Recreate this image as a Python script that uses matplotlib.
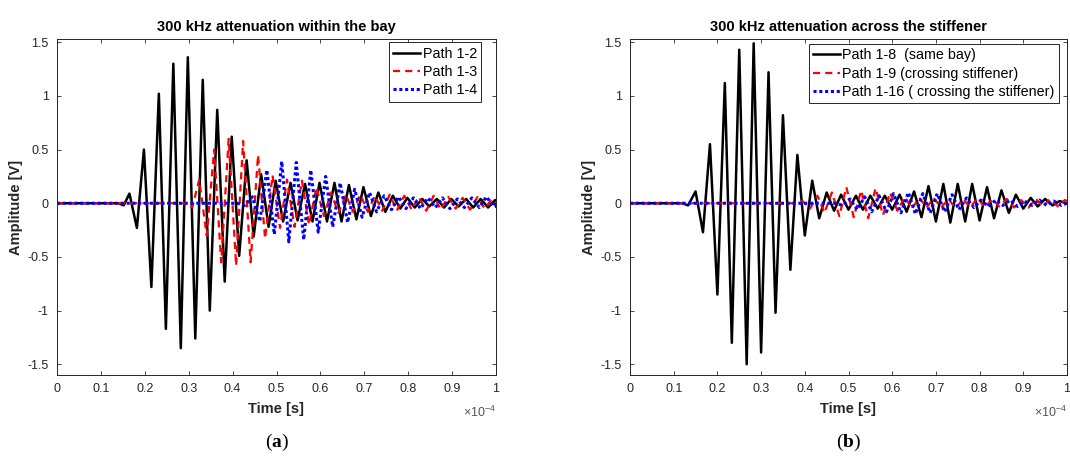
import matplotlib.pyplot as plt

plt.rcParams['font.family'] = ['Liberation Sans', 'DejaVu Sans']
plt.rcParams['mathtext.fontset'] = 'custom'
plt.rcParams['mathtext.rm'] = 'Liberation Sans'
plt.rcParams['mathtext.bf'] = 'Liberation Serif:bold'

# time in units of 1e-4 s, amplitude in V (peaks)
t_12 = [0, 0.14, 0.152, 0.165, 0.182, 0.198, 0.215, 0.232, 0.248, 0.265, 0.282, 0.298, 0.315,
        0.332, 0.348, 0.365, 0.382, 0.398, 0.415, 0.432, 0.448, 0.465, 0.482, 0.498, 0.515,
        0.532, 0.548, 0.565, 0.582, 0.598, 0.615, 0.632, 0.648, 0.665, 0.682, 0.698, 0.715,
        0.732, 0.748, 0.765, 0.782, 0.798, 0.815, 0.832, 0.848, 0.865, 0.882, 0.898, 0.915,
        0.932, 0.948, 0.965, 0.982, 0.998, 1.0]
v_12 = [0, 0, -0.02, 0.09, -0.23, 0.50, -0.78, 1.02, -1.17, 1.30, -1.35, 1.36, -1.26,
        1.15, -1.00, 0.87, -0.73, 0.62, -0.49, 0.40, -0.31, 0.27, -0.22, 0.21, -0.17,
        0.19, -0.16, 0.18, -0.17, 0.19, -0.17, 0.19, -0.17, 0.17, -0.15, 0.15, -0.12,
        0.10, -0.08, 0.07, -0.05, 0.05, -0.04, 0.04, -0.03, 0.04, -0.04, 0.04, -0.03,
        0.04, -0.04, 0.04, -0.04, 0.03, -0.03]

t_13 = [0, 0.295, 0.308, 0.324, 0.341, 0.358, 0.374, 0.391, 0.408, 0.424, 0.441, 0.458,
        0.474, 0.491, 0.508, 0.524, 0.541, 0.558, 0.574, 0.591, 0.608, 0.624, 0.641, 0.658,
        0.674, 0.691, 0.708, 0.724, 0.741, 0.758, 0.774, 0.791, 0.808, 0.824, 0.841, 0.858,
        0.874, 0.891, 0.908, 0.924, 0.941, 0.958, 0.974, 0.991, 1.0]
v_13 = [0, 0, -0.04, 0.22, -0.30, 0.50, -0.55, 0.60, -0.58, 0.58, -0.55, 0.45,
        -0.33, 0.26, -0.23, 0.22, -0.22, 0.21, -0.20, 0.15, -0.12, 0.10, -0.09, 0.08,
        -0.08, 0.08, -0.08, 0.07, -0.07, 0.08, -0.07, 0.07, -0.06, 0.06, -0.07, 0.07,
        -0.06, 0.06, -0.05, 0.05, -0.06, 0.06, -0.05, 0.04, 0]

t_14 = [0, 0.410, 0.428, 0.445, 0.462, 0.478, 0.495, 0.512, 0.528, 0.545, 0.562, 0.578,
        0.595, 0.612, 0.628, 0.645, 0.662, 0.678, 0.695, 0.712, 0.728, 0.745, 0.762, 0.778,
        0.795, 0.812, 0.828, 0.845, 0.862, 0.878, 0.895, 0.912, 0.928, 0.945, 0.962, 0.978,
        0.995, 1.0]
v_14 = [0, 0, -0.02, 0.06, -0.17, 0.31, -0.29, 0.39, -0.36, 0.38, -0.34, 0.31,
        -0.27, 0.25, -0.22, 0.19, -0.18, 0.13, -0.13, 0.10, -0.08, 0.07, -0.06, 0.06,
        -0.05, 0.05, -0.05, 0.05, -0.04, 0.05, -0.05, 0.04, -0.04, 0.05, -0.04, 0.06,
        -0.03, 0]

t_18 = [0, 0.120, 0.133, 0.150, 0.167, 0.183, 0.200, 0.217, 0.233, 0.250, 0.267, 0.283,
        0.300, 0.317, 0.333, 0.350, 0.367, 0.383, 0.400, 0.417, 0.433, 0.450, 0.467, 0.483,
        0.500, 0.517, 0.533, 0.550, 0.567, 0.583, 0.600, 0.617, 0.633, 0.650, 0.667, 0.683,
        0.700, 0.717, 0.733, 0.750, 0.767, 0.783, 0.800, 0.817, 0.833, 0.850, 0.867, 0.883,
        0.900, 0.917, 0.933, 0.950, 0.967, 0.983, 1.0]
v_18 = [0, 0, -0.02, 0.11, -0.27, 0.55, -0.85, 1.12, -1.30, 1.43, -1.50, 1.49,
        -1.39, 1.22, -1.02, 0.82, -0.62, 0.45, -0.30, 0.21, -0.14, 0.10, -0.07, 0.08,
        -0.06, 0.07, -0.06, 0.07, -0.05, 0.07, -0.06, 0.08, -0.08, 0.11, -0.13, 0.16,
        -0.17, 0.18, -0.18, 0.18, -0.17, 0.18, -0.16, 0.15, -0.14, 0.12, -0.09, 0.08,
        -0.05, 0.05, -0.03, 0.04, -0.02, 0.02, 0]

t_19 = [0, 0.380, 0.395, 0.412, 0.429, 0.445, 0.462, 0.479, 0.495, 0.512, 0.529, 0.545,
        0.562, 0.579, 0.595, 0.612, 0.629, 0.645, 0.662, 0.679, 0.695, 0.712, 0.729, 0.745,
        0.762, 0.779, 0.795, 0.812, 0.829, 0.845, 0.862, 0.879, 0.895, 0.912, 0.929, 0.945,
        0.962, 0.979, 0.995, 1.0]
v_19 = [0, 0, 0.02, -0.05, 0.07, -0.09, 0.10, -0.12, 0.15, -0.13, 0.12, -0.14,
        0.14, -0.11, 0.10, -0.07, 0.06, -0.05, 0.05, -0.04, 0.05, -0.04, 0.04, -0.05,
        0.04, -0.04, 0.05, -0.04, 0.04, -0.03, 0.04, -0.04, 0.03, -0.04, 0.04, -0.03,
        0.04, -0.03, 0.03, 0.02]

t_116 = [0, 0.470, 0.487, 0.503, 0.520, 0.537, 0.553, 0.570, 0.587, 0.603, 0.620, 0.637,
         0.653, 0.670, 0.687, 0.703, 0.720, 0.737, 0.753, 0.770, 0.787, 0.803, 0.820, 0.837,
         0.853, 0.870, 0.887, 0.903, 0.920, 0.937, 0.953, 0.970, 0.987, 1.0]
v_116 = [0, 0, -0.02, 0.04, -0.06, 0.06, -0.08, 0.07, -0.08, 0.09, -0.09, 0.10,
         -0.10, 0.09, -0.09, 0.09, -0.08, 0.08, -0.06, 0.05, -0.04, 0.03, -0.03, 0.03,
         -0.02, 0.03, -0.03, 0.02, -0.02, 0.03, -0.02, 0.02, -0.02, 0]

xticks = [0, 0.1, 0.2, 0.3, 0.4, 0.5, 0.6, 0.7, 0.8, 0.9, 1.0]
xtick_labels = ['0', '0.1', '0.2', '0.3', '0.4', '0.5', '0.6', '0.7', '0.8', '0.9', '1']
yticks = [-1.5, -1, -0.5, 0, 0.5, 1, 1.5]
ytick_labels = ['-1.5', '-1', '-0.5', '0', '0.5', '1', '1.5']

W, H = 1070, 462
fig = plt.figure(figsize=(W / 100, H / 100), dpi=100)
ax_a = fig.add_axes([57 / W, 1 - 375 / H, 439 / W, 336 / H])
ax_b = fig.add_axes([630 / W, 1 - 375 / H, 437 / W, 336 / H])

gray = '#262626'
panels = [
    (ax_a, '300 kHz attenuation within the bay',
     [(t_12, v_12, 'Path 1-2'), (t_13, v_13, 'Path 1-3'), (t_14, v_14, 'Path 1-4')],
     (0.966, 0.99), 'a'),
    (ax_b, '300 kHz attenuation across the stiffener',
     [(t_18, v_18, 'Path 1-8  (same bay)'), (t_19, v_19, 'Path 1-9 (crossing stiffener)'),
      (t_116, v_116, 'Path 1-16 ( crossing the stiffener)')],
     (0.982, 0.985), 'b'),
]

for ax, title, series, leg_pos, tag in panels:
    (t1, v1, l1), (t2, v2, l2), (t3, v3, l3) = series
    ax.plot(t1, v1, color='black', lw=1.8, label=l1)
    ax.plot(t2, v2, color='#ff0000', lw=1.6, dashes=(3.2, 2.3), label=l2)
    ax.plot(t3, v3, color='#0000ff', lw=2.2, dashes=(1.0, 0.9), label=l3)

    ax.set_xlim(0, 1)
    ax.set_ylim(-1.6, 1.53)
    ax.set_xticks(xticks)
    ax.set_xticklabels(xtick_labels)
    ax.set_yticks(yticks)
    ax.set_yticklabels(ytick_labels)
    ax.tick_params(direction='in', top=True, right=True, length=3, width=0.6,
                   colors=gray, labelsize=9, pad=6)
    for sp in ax.spines.values():
        sp.set_color(gray)
        sp.set_linewidth(0.7)

    ax.set_title(title, fontsize=10.5, fontweight='bold', color='black', pad=6)
    ax.set_xlabel('Time [s]', fontsize=10.5, fontweight='bold', color=gray, labelpad=5)
    ax.set_ylabel('Amplitude [V]', fontsize=10.5, fontweight='bold', color=gray, labelpad=3)
    ax.text(1.0, -0.11, r'$\times10^{-4}$', transform=ax.transAxes, ha='right',
            va='center', fontsize=9, color='#555555')

    leg = ax.legend(loc='upper right', bbox_to_anchor=leg_pos, borderaxespad=0,
                    fontsize=10.3, frameon=True, fancybox=False, framealpha=1,
                    edgecolor=gray, handlelength=1.9, handletextpad=0.15,
                    labelspacing=0.3, borderpad=0.3)
    leg.get_frame().set_linewidth(0.7)

    x0, x1 = ax.get_position().x0, ax.get_position().x1
    fig.text((x0 + x1) / 2, 1 - 442 / H, '($\\mathbf{' + tag + '}$)', ha='center',
             va='center', fontsize=14, family='Liberation Serif')

fig.savefig('out.png', dpi=100)
